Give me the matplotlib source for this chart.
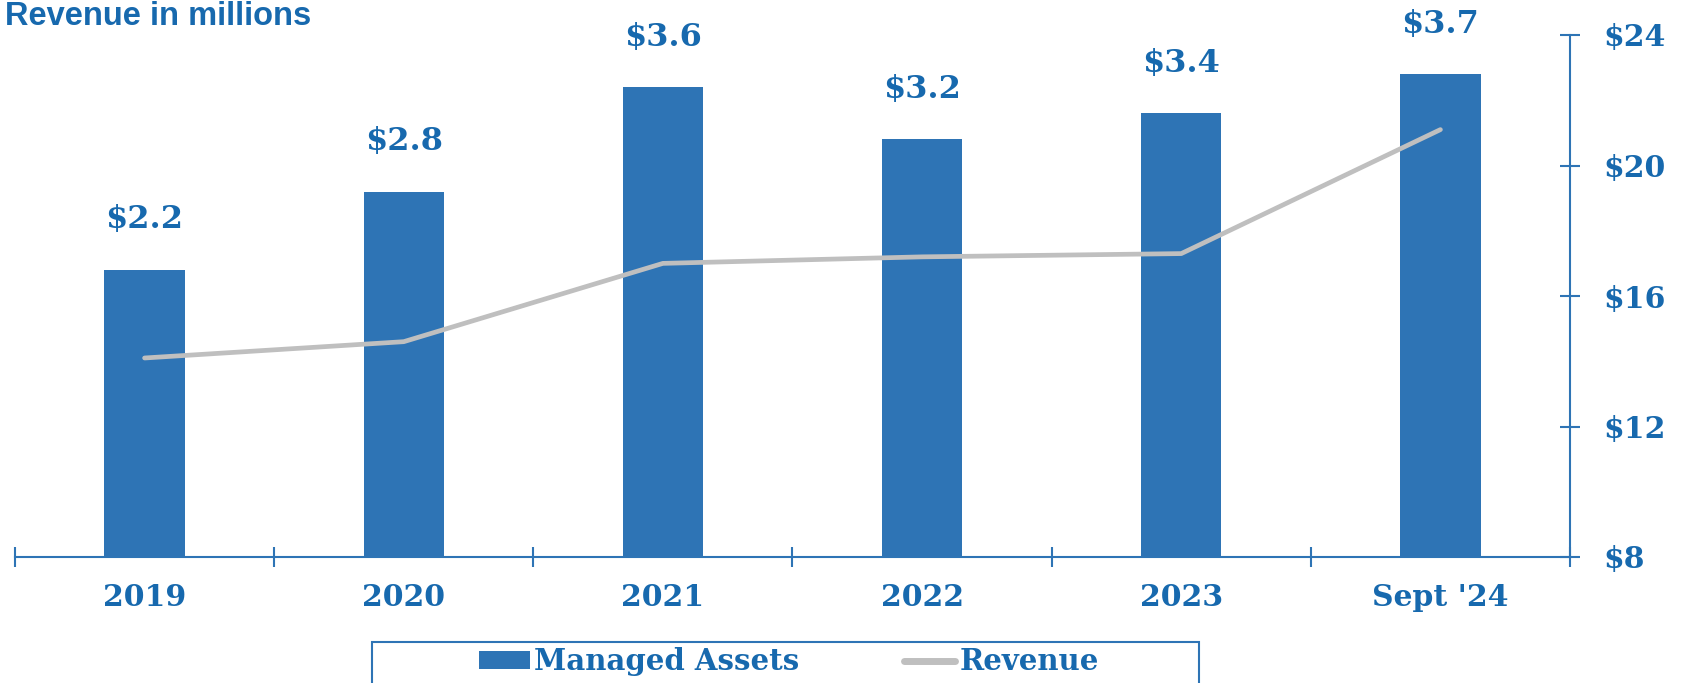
import matplotlib
matplotlib.use("Agg")
import matplotlib.pyplot as plt
from matplotlib.patches import Rectangle, Patch
from matplotlib.lines import Line2D
import numpy as np

categories = ["2019", "2020", "2021", "2022", "2023", "Sept '24"]
managed_assets = [2.2, 2.8, 3.6, 3.2, 3.4, 3.7]
revenue = [14.1, 14.6, 17.0, 17.2, 17.3, 21.1]
asset_labels = ["$2.2", "$2.8", "$3.6", "$3.2", "$3.4", "$3.7"]
rev_ticks = [8, 12, 16, 20, 24]
rev_tick_labels = ["$8", "$12", "$16", "$20", "$24"]

BLUE_TXT = "#1769AE"
BAR = "#2E74B5"
AXIS = "#2E74B5"
GRAY = "#BFBFBF"
SERIF = "DejaVu Serif"

W, H = 1683, 683
fig = plt.figure(figsize=(W / 100, H / 100), dpi=100)
ax = fig.add_axes([15 / W, (H - 557) / H, 1555 / W, 522 / H])
ax2 = ax.twinx()

x = np.arange(len(categories))
ax.bar(x, managed_assets, width=0.31, color=BAR, zorder=2)
ax.set_ylim(0, 4)
ax.set_xlim(-0.5, len(categories) - 0.5)

for xi, v, lab in zip(x, managed_assets, asset_labels):
    ax.annotate(lab, (xi, v), xytext=(0, 36), textcoords="offset points",
                ha="center", va="center", fontsize=23, fontweight="bold",
                family=SERIF, color=BLUE_TXT)

ax2.plot(x, revenue, color=GRAY, lw=3.4, solid_capstyle="round", zorder=3)
ax2.set_ylim(8, 24)
ax2.set_yticks(rev_ticks)
ax2.set_yticklabels(rev_tick_labels)

# axes styling
for a in (ax, ax2):
    for s in ("left", "top"):
        a.spines[s].set_visible(False)
ax.spines["right"].set_visible(False)
ax2.spines["bottom"].set_visible(False)
ax.spines["bottom"].set_color(AXIS)
ax.spines["bottom"].set_linewidth(1.5)
ax2.spines["right"].set_color(AXIS)
ax2.spines["right"].set_linewidth(1.5)

ax.set_yticks([])
ax.set_xticks(x)
ax.set_xticklabels(categories)
ax.set_xticks(np.arange(-0.5, len(categories)), minor=True)
ax.tick_params(axis="x", which="major", length=0, pad=19, labelsize=21.5,
               labelcolor=BLUE_TXT)
ax.tick_params(axis="x", which="minor", direction="inout", length=14,
               width=1.5, color=AXIS)
for t in ax.get_xticklabels():
    t.set_fontfamily(SERIF)
    t.set_fontweight("bold")

ax2.tick_params(axis="y", direction="inout", length=14, width=1.5,
                color=AXIS, labelsize=21.5, labelcolor=BLUE_TXT, pad=17)
for t in ax2.get_yticklabels():
    t.set_fontfamily(SERIF)
    t.set_fontweight("bold")

ax.set_zorder(ax2.get_zorder() - 1)
ax.patch.set_visible(False)
ax2.patch.set_visible(False)

# title (kept fully inside the figure)
fig.text(5 / W, 1 - 25 / H, "Revenue in millions", fontsize=23.5,
         fontweight="bold", family="Liberation Sans", color=BLUE_TXT,
         ha="left", va="baseline")

# legend
handles = [Patch(facecolor=BAR, edgecolor="none", label="Managed Assets"),
           Line2D([0], [0], color=GRAY, lw=5, solid_capstyle="round", label="Revenue")]
leg = fig.legend(handles=handles, loc="center", ncol=2,
                 bbox_to_anchor=(789 / W, 1 - 662 / H), frameon=False,
                 prop={"family": SERIF, "weight": "bold", "size": 21},
                 handlelength=1.75, handleheight=0.6, handletextpad=0.15,
                 columnspacing=3.6)
for t in leg.get_texts():
    t.set_color(BLUE_TXT)
fig.patches.append(Rectangle((372 / W, -0.2), (1199 - 372) / W, 0.2 + (H - 642) / H,
                             transform=fig.transFigure, fill=False,
                             edgecolor=AXIS, linewidth=1.5))

fig.savefig("out.png", dpi=100)
